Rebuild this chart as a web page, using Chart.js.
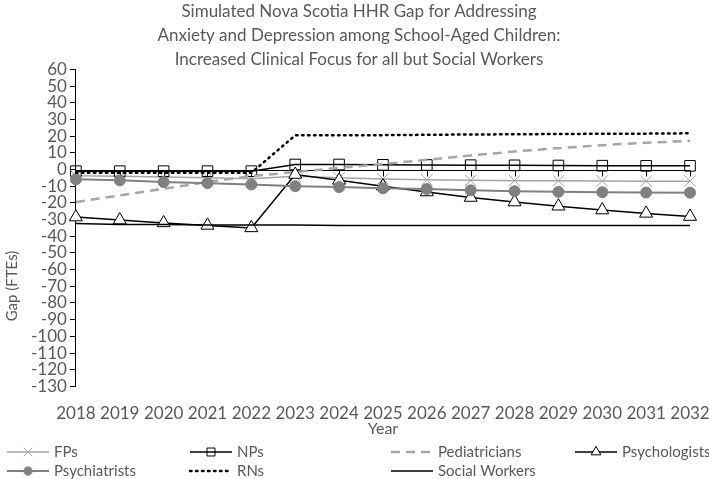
<!DOCTYPE html>
<html>
<head>
<meta charset="utf-8">
<script src="https://cdn.jsdelivr.net/npm/chart.js@4"></script>
<style>
  html, body { margin: 0; padding: 0; background: #fff; }
  #wrap { width: 709px; height: 479px; position: relative; }
</style>
</head>
<body>
<div id="wrap"><canvas id="chart"></canvas></div>
<script>
// Data
const years = ["2018", "2019", "2020", "2021", "2022", "2023", "2024", "2025",
  "2026", "2027", "2028", "2029", "2030", "2031", "2032"];

const fps = [-3.8, -4.1, -4.5, -5, -5.5, -4, -5, -5.7, -6.2, -6.5, -6.7, -6.8, -6.9, -7, -7];
const nps = [-1, -1, -1, -1, -1, 3, 3, 2.8, 2.7, 2.6, 2.5, 2.4, 2.3, 2.2, 2.2];
const pediatricians = [-19.5, -15.5, -11.5, -7.5, -4, -1.5, 1, 3.3, 5.8, 8.4, 10.8, 12.8, 14.6, 16, 17.2];
const psychologists = [-28.5, -30.3, -32, -33.5, -35, -3, -6.5, -10, -13.5, -16.8, -19.5, -22, -24.3, -26.3, -28.2];
const psychiatrists = [-5.9, -6.5, -7.5, -8.2, -9, -10, -10.5, -11.3, -11.7, -12.5, -13, -13.4, -13.6, -13.8, -13.9];
const rns = [-2, -2, -2, -2, -2, 20.5, 20.5, 20.6, 20.8, 21, 21.1, 21.3, 21.4, 21.5, 21.7];
const socialWorkers = [-32.3, -33, -33, -33.2, -33.3, -33.3, -33.5, -33.5, -33.5, -33.5, -33.6, -33.6, -33.6, -33.6, -33.6];

const yTicks = { min: -130, max: 60, step: 10 };
const titleLines = [
  "Simulated Nova Scotia HHR Gap for Addressing",
  "Anxiety and Depression among School-Aged Children:",
  "Increased Clinical Focus for all but Social Workers",
];

const FONT = "Lato, sans-serif";
const TXT = "#595959";

const datasets = [
  { label: "FPs", data: fps, borderColor: "#a5a5a5", borderWidth: 1.5,
    pointStyle: "crossRot", pointRadius: 8, pointBorderColor: "#a5a5a5",
    pointBackgroundColor: "#a5a5a5", pointBorderWidth: 1, order: 7 },
  { label: "NPs", data: nps, borderColor: "#000", borderWidth: 1.5,
    pointStyle: "rect", pointRadius: 7.5, pointBorderColor: "#000",
    pointBackgroundColor: "rgba(255,255,255,0)", pointBorderWidth: 1, order: 6 },
  { label: "Pediatricians", data: pediatricians, borderColor: "#a6a6a6", borderWidth: 2.5,
    borderDash: [9, 6], pointRadius: 0, order: 5 },
  { label: "Psychologists", data: psychologists, borderColor: "#000", borderWidth: 1.5,
    pointStyle: "triangle", pointRadius: 7.5, pointBorderColor: "#000",
    pointBackgroundColor: "#fff", pointBorderWidth: 1, order: 4 },
  { label: "Psychiatrists", data: psychiatrists, borderColor: "#808080", borderWidth: 2,
    pointStyle: "circle", pointRadius: 5.5, pointBorderColor: "#808080",
    pointBackgroundColor: "#808080", pointBorderWidth: 1, order: 3 },
  { label: "RNs", data: rns, borderColor: "#000", borderWidth: 2.5,
    borderDash: [1.5, 4.5], borderCapStyle: "round", pointRadius: 0, order: 2 },
  { label: "Social Workers", data: socialWorkers, borderColor: "#000", borderWidth: 1.5,
    pointRadius: 0, order: 1 },
];

// zero line + category tick marks (Excel axis crossing at 0)
const zeroAxis = {
  id: "zeroAxis",
  beforeDatasetsDraw(chart) {
    const { ctx, chartArea, scales } = chart;
    const y0 = Math.round(scales.y.getPixelForValue(0)) + 0.5;
    ctx.save();
    ctx.strokeStyle = "#000";
    ctx.lineWidth = 1;
    ctx.beginPath();
    ctx.moveTo(chartArea.left, y0);
    ctx.lineTo(chartArea.right, y0);
    years.forEach((_, i) => {
      const x = Math.round(scales.x.getPixelForValue(i)) + 0.5;
      ctx.moveTo(x, y0);
      ctx.lineTo(x, y0 + 6);
    });
    ctx.stroke();
    ctx.restore();
  },
};

// y-axis title, placed like the original
const yTitle = {
  id: "yTitle",
  afterDraw(chart) {
    const { ctx } = chart;
    ctx.save();
    ctx.translate(12, 286);
    ctx.rotate(-Math.PI / 2);
    ctx.font = "15px " + FONT;
    ctx.fillStyle = TXT;
    ctx.textAlign = "center";
    ctx.textBaseline = "middle";
    ctx.fillText("Gap (FTEs)", 0, 0);
    ctx.restore();
  },
};

// grid legend: 4 columns, 2 rows
const legendCols = [7, 190, 391, 575];
const legendRows = [452, 471];
const gridLegend = {
  id: "gridLegend",
  afterDraw(chart) {
    const { ctx } = chart;
    ctx.save();
    ctx.font = "15px " + FONT;
    ctx.textBaseline = "middle";
    chart.data.datasets.forEach((ds, i) => {
      const x = legendCols[i % 4];
      const y = legendRows[Math.floor(i / 4)];
      const w = 42;
      ctx.save();
      ctx.strokeStyle = ds.borderColor;
      ctx.lineWidth = ds.borderWidth;
      ctx.setLineDash(ds.borderDash || []);
      ctx.lineCap = ds.borderCapStyle || "butt";
      ctx.beginPath();
      ctx.moveTo(x, y);
      ctx.lineTo(x + w, y);
      ctx.stroke();
      ctx.restore();
      if (ds.pointRadius > 0) {
        ctx.fillStyle = ds.pointBackgroundColor;
        ctx.strokeStyle = ds.pointBorderColor;
        ctx.lineWidth = ds.pointBorderWidth;
        Chart.helpers.drawPoint(ctx, { pointStyle: ds.pointStyle, radius: ds.pointRadius * 0.75,
          rotation: 0, borderWidth: ds.pointBorderWidth }, x + w / 2, y);
      }
      ctx.fillStyle = TXT;
      ctx.fillText(ds.label, x + w + 5, y);
    });
    ctx.restore();
  },
};

new Chart(document.getElementById("chart"), {
  type: "line",
  data: { labels: years, datasets: datasets },
  options: {
    responsive: true,
    maintainAspectRatio: false,
    animation: false,
    layout: { padding: { left: 28, right: 19, top: 0, bottom: 41 } },
    elements: { line: { tension: 0, fill: false } },
    plugins: {
      legend: { display: false },
      tooltip: { enabled: false },
      title: {
        display: true,
        text: titleLines,
        color: TXT,
        font: { family: FONT, size: 17, weight: "normal", lineHeight: 1.4 },
        padding: { top: 0, bottom: -2 },
      },
    },
    scales: {
      x: {
        type: "category",
        offset: false,
        grid: { display: false },
        border: { display: false },
        afterFit(scale) { scale.paddingRight = 0; },
        ticks: { color: TXT, font: { family: FONT, size: 17 }, padding: 9,
          autoSkip: false, maxRotation: 0 },
        title: { display: true, text: "Year", color: TXT,
          font: { family: FONT, size: 16 }, padding: { top: -14, bottom: 0 } },
      },
      y: {
        min: yTicks.min,
        max: yTicks.max,
        grid: { display: true, drawOnChartArea: false, color: "#000", tickLength: 6 },
        border: { display: true, color: "#000", width: 1 },
        ticks: { stepSize: yTicks.step, autoSkip: false, color: TXT,
          font: { family: FONT, size: 17 }, padding: 3 },
      },
    },
  },
  plugins: [zeroAxis, yTitle, gridLegend],
});
</script>
</body>
</html>
